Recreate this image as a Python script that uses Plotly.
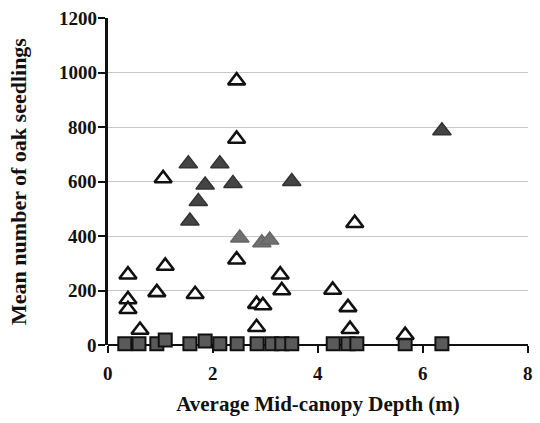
import plotly.graph_objects as go

# Mean oak seedling counts against average mid-canopy depth (m)
open_tri_x = [0.38, 0.38, 0.38, 0.61, 0.93, 1.09, 1.05, 1.66, 2.45, 2.45, 2.45,
              2.83, 2.95, 2.83, 3.28, 3.31, 4.28, 4.57, 4.61, 5.66, 4.70]
open_tri_y = [258, 167, 131, 55, 193, 290, 611, 186, 970, 756, 313,
              150, 145, 65, 258, 200, 202, 138, 58, 36, 447]

dark_tri_x = [1.53, 2.13, 1.85, 2.38, 1.72, 1.56, 3.50, 6.36]
dark_tri_y = [665, 665, 587, 593, 527, 455, 600, 786]

gray_tri_x = [2.51, 2.93, 3.08]
gray_tri_y = [393, 375, 385]

square_x = [0.32, 0.59, 0.93, 1.09, 1.56, 1.85, 2.13, 2.46, 2.84, 3.12, 3.31,
            3.50, 4.29, 4.57, 4.74, 5.66, 6.36]
square_y = [5, 5, 5, 18, 5, 15, 5, 5, 5, 5, 5, 5, 5, 5, 5, 5, 5]

x_ticks = [0, 2, 4, 6, 8]
y_ticks = [0, 200, 400, 600, 800, 1000, 1200]

FONT = "Liberation Serif"
INK = "#111111"

fig = go.Figure()

fig.add_trace(go.Scatter(
    x=square_x, y=square_y, mode="markers",
    marker=dict(symbol="square", size=13, color="#5a5a5a",
                line=dict(color=INK, width=2)),
    cliponaxis=False, showlegend=False))

fig.add_trace(go.Scatter(
    x=open_tri_x, y=open_tri_y, mode="markers",
    marker=dict(symbol="triangle-up", size=15, color="white",
                line=dict(color=INK, width=2.6)),
    cliponaxis=False, showlegend=False))

fig.add_trace(go.Scatter(
    x=dark_tri_x, y=dark_tri_y, mode="markers",
    marker=dict(symbol="triangle-up", size=16, color="#444444",
                line=dict(color="#333333", width=1.5)),
    cliponaxis=False, showlegend=False))

fig.add_trace(go.Scatter(
    x=gray_tri_x, y=gray_tri_y, mode="markers",
    marker=dict(symbol="triangle-up", size=16, color="#707070",
                line=dict(color="#666666", width=1.5)),
    cliponaxis=False, showlegend=False))

# Bold tick labels, placed on the axes' own scales
label_font = dict(family=FONT, size=19, color=INK)
for v in x_ticks:
    fig.add_annotation(x=v, xref="x", y=0, yref="paper",
                       text=f"<b>{v}</b>", showarrow=False,
                       xanchor="center", yanchor="top", yshift=-16,
                       font=label_font)
for v in y_ticks:
    fig.add_annotation(x=0, xref="paper", y=v, yref="y",
                       text=f"<b>{v}</b>", showarrow=False,
                       xanchor="right", yanchor="middle", xshift=-9,
                       font=label_font)

fig.update_layout(
    width=540, height=423,
    margin=dict(l=108, r=12, t=18, b=73),
    paper_bgcolor="white", plot_bgcolor="white",
    font=dict(family=FONT, size=18, color=INK),
    xaxis=dict(
        range=[0, 8], tickvals=x_ticks, showticklabels=False,
        showgrid=False, zeroline=False, showline=False,
        ticks="outside", ticklen=7, tickwidth=2, tickcolor=INK,
        title=dict(text="<b>Average Mid-canopy Depth (m)</b>", standoff=44,
                   font=dict(family=FONT, size=21, color=INK)),
    ),
    yaxis=dict(
        range=[0, 1200], tickvals=y_ticks, showticklabels=False,
        showgrid=True, gridcolor="#c8c8c8", gridwidth=1,
        zeroline=True, zerolinecolor=INK, zerolinewidth=2,
        showline=True, linecolor=INK, linewidth=2.5,
        ticks="outside", ticklen=7, tickwidth=2, tickcolor=INK,
        title=dict(text="<b>Mean number of oak seedlings</b>", standoff=66,
                   font=dict(family=FONT, size=22, color=INK)),
    ),
)

fig.write_html("out.html")
